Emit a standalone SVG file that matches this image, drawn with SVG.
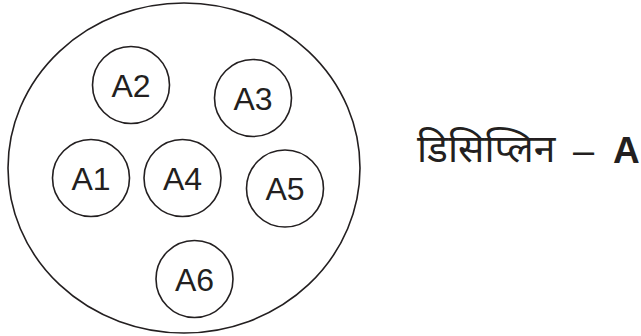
<svg xmlns="http://www.w3.org/2000/svg" width="641" height="336" viewBox="0 0 641 336">
<style>
.c{fill:#fff;stroke:#231f20;stroke-width:1.6}
.t{font-family:"Liberation Sans",Arial,sans-serif;font-size:32px;fill:#231f20;text-anchor:middle}
.h{font-family:"Noto Sans Devanagari","Noto Sans","Liberation Sans",sans-serif;font-size:39px;fill:#231f20}
.d{font-family:"Liberation Sans",Arial,sans-serif;font-size:38px;fill:#231f20}
</style>
<rect width="641" height="336" fill="#fff"/>
<g id="outer"><ellipse class="c" cx="184" cy="168" rx="176" ry="165"/></g>
<g id="connectors"></g>
<g id="A2"><circle class="c" cx="131" cy="85" r="38.5"/><text class="t" x="131" y="96.5">A2</text></g>
<g id="A3"><circle class="c" cx="253" cy="98" r="38.5"/><text class="t" x="253" y="109.5">A3</text></g>
<g id="A1"><circle class="c" cx="91" cy="178" r="38.5"/><text class="t" x="91" y="189.5">A1</text></g>
<g id="A4"><circle class="c" cx="182.5" cy="178" r="38.5"/><text class="t" x="182.5" y="189.5">A4</text></g>
<g id="A5"><circle class="c" cx="285" cy="188.5" r="38.5"/><text class="t" x="285" y="200">A5</text></g>
<g id="A6"><circle class="c" cx="194.5" cy="279" r="38.5"/><text class="t" x="194.5" y="290.5">A6</text></g>
<g id="label"><text class="h" x="417" y="162">डिसिप्लिन</text><text class="d" x="573" y="164">–</text><text x="613" y="163" style="font-family:'Liberation Sans',Arial,sans-serif;font-size:37px;font-weight:bold;fill:#231f20">A</text></g>
</svg>
